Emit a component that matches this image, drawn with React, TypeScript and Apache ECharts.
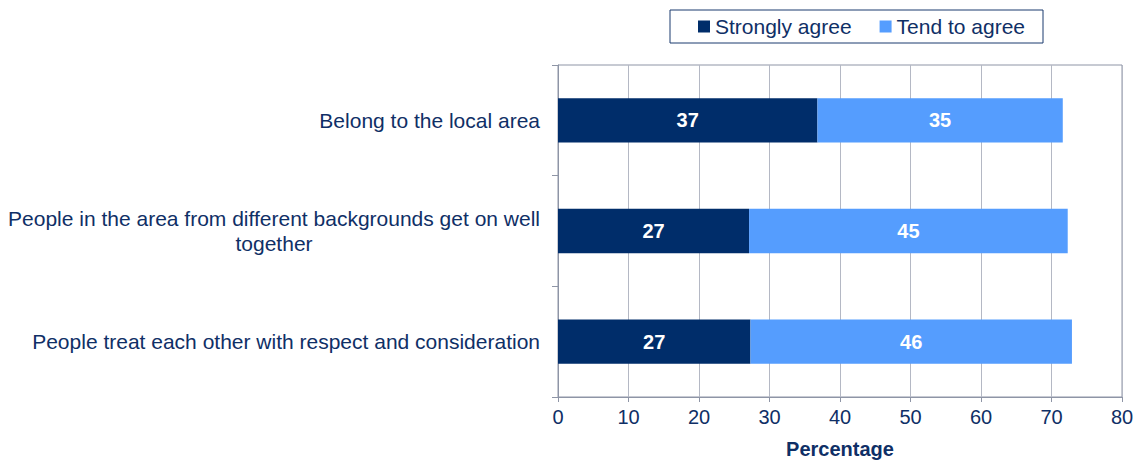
import React, { useEffect, useRef } from "react";
import * as echarts from "echarts";

const categories = [
  "Belong to the local area",
  "People in the area from different backgrounds get on well\ntogether",
  "People treat each other with respect and consideration",
];
const strongly = [36.8, 27.1, 27.3];
const tendTo = [34.8, 45.2, 45.6];
const seriesNames = ["Strongly agree", "Tend to agree"];
const xTicks = { min: 0, max: 80, interval: 10 };

const NAVY = "#0f2f66";
const FONT = "Liberation Sans, Arial, sans-serif";

export default function App() {
  const ref = useRef<HTMLDivElement>(null);
  useEffect(() => {
    if (!ref.current) return;
    const chart = echarts.init(ref.current, undefined, { renderer: "svg" });
    const label = {
      show: true,
      position: "inside",
      color: "#ffffff",
      fontWeight: "bold",
      fontSize: 20,
      fontFamily: FONT,
      formatter: (p: any) => String(Math.round(p.value)),
    };
    chart.setOption({
      animation: false,
      textStyle: { fontFamily: FONT },
      legend: {
        left: 670,
        top: 10,
        padding: [6, 18, 6, 28],
        borderColor: "#1b3a6e",
        borderWidth: 1,
        itemGap: 28,
        itemWidth: 12,
        itemHeight: 12,
        icon: "rect",
        textStyle: { color: NAVY, fontSize: 21, fontFamily: FONT },
        data: seriesNames,
      },
      grid: {
        left: 558,
        right: 16,
        top: 65,
        bottom: 67,
        show: true,
        borderColor: "#8e95a6",
        borderWidth: 1,
        containLabel: false,
      },
      xAxis: {
        type: "value",
        min: xTicks.min,
        max: xTicks.max,
        interval: xTicks.interval,
        name: "Percentage",
        nameLocation: "middle",
        nameGap: 42,
        nameTextStyle: { color: NAVY, fontWeight: "bold", fontSize: 20, fontFamily: FONT },
        axisLine: { show: true, lineStyle: { color: "#8e95a6" } },
        axisTick: { show: true, length: 5, lineStyle: { color: "#8e95a6" } },
        axisLabel: { color: NAVY, fontSize: 20, margin: 10, fontFamily: FONT },
        splitLine: { show: true, lineStyle: { color: "#b4b8c4" } },
      },
      yAxis: {
        type: "category",
        inverse: true,
        data: categories,
        axisLine: { show: true, lineStyle: { color: "#8e95a6" } },
        axisTick: { show: true, length: 6, alignWithLabel: false, lineStyle: { color: "#8e95a6" } },
        axisLabel: {
          margin: 18,
          formatter: (v: string) => v.split("\n").map((l) => `{a|${l}}`).join("\n"),
          rich: {
            a: { align: "center", color: NAVY, fontSize: 21, lineHeight: 25, fontFamily: FONT },
          },
        },
      },
      series: [
        {
          name: seriesNames[0],
          type: "bar",
          stack: "total",
          data: strongly,
          barCategoryGap: "60%",
          itemStyle: { color: "#002d6a" },
          label,
        },
        {
          name: seriesNames[1],
          type: "bar",
          stack: "total",
          data: tendTo,
          barCategoryGap: "60%",
          itemStyle: { color: "#559dfe" },
          label,
        },
      ],
    });
    return () => chart.dispose();
  }, []);
  return (
    <div
      ref={ref}
      style={{ position: "fixed", left: 0, top: 0, width: 1138, height: 464, background: "#fff" }}
    />
  );
}
